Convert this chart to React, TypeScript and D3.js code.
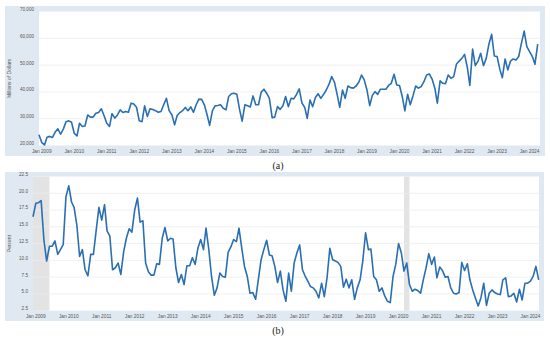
import * as d3 from 'd3';

// monthly observations, Dec 2008 .. Apr 2024
const firstMonth = new Date(Date.UTC(2008, 11, 1));
const lastMonth = new Date(Date.UTC(2024, 3, 1));

// (a) millions of dollars
const salesValues = [
  24000, 21100, 20200, 23100, 23400, 23000, 25000, 26200, 24200, 26200, 28900, 29200, 28700,
  24500, 23600, 28300, 27100, 27300, 31400, 30600, 30600, 32000, 32300, 33700, 31200,
  28300, 27100, 31900, 30200, 31400, 33300, 32300, 32700, 32400, 35800, 35500, 34300,
  29200, 28900, 34800, 30800, 33700, 33400, 33000, 32400, 32700, 35200, 37600, 33000,
  31500, 27700, 31200, 32300, 33000, 34200, 33000, 34400, 32400, 35200, 37300, 37200,
  35200, 31400, 27500, 32900, 34800, 34900, 35200, 33900, 33300, 38300, 39300, 39500,
  39100, 33300, 29100, 35200, 34800, 34400, 38500, 35200, 35200, 39900, 41000, 39500,
  37600, 30400, 30600, 34500, 33500, 34800, 38300, 34500, 37600, 37400, 39100, 41100,
  35800, 34200, 30100, 37000, 34500, 37900, 39300, 37600, 39100, 40700, 42900, 45700,
  43600, 38900, 34200, 40700, 37600, 42200, 41600, 41400, 42200, 43600, 46300, 44500,
  40700, 34900, 38600, 40100, 39100, 41000, 41000, 41000, 42400, 43200, 46600, 42600,
  42400, 38300, 32900, 39100, 35200, 38600, 42200, 41400, 42000, 43800, 46300, 46700,
  44800, 41400, 35800, 44100, 43200, 43100, 46300, 45100, 45700, 50300, 51500, 52500,
  54000, 49100, 42400, 56000, 49800, 51500, 54400, 49800, 52500, 57800, 61500, 53400,
  53200, 48400, 45300, 52300, 48200, 51500, 52300, 51900, 53200, 58100, 62700, 56900,
  55000, 53200, 50300, 57800,
];

// (b) percent
const rateValues = [
  16.5, 18.5, 18.6, 18.9, 13.0, 9.9, 12.1, 12.1, 12.9, 10.9, 11.6, 12.4, 19.5,
  21.1, 18.7, 17.9, 15.2, 10.6, 11.6, 8.6, 7.7, 10.9, 10.9, 14.5, 17.9,
  16.0, 18.3, 14.4, 13.6, 8.6, 8.9, 9.6, 7.9, 11.3, 13.3, 14.7, 14.2,
  17.5, 19.3, 15.7, 15.9, 9.6, 8.3, 7.8, 7.8, 9.5, 9.4, 13.3, 14.9,
  12.9, 13.3, 13.2, 8.9, 6.7, 7.9, 6.4, 9.2, 9.2, 10.4, 9.4, 11.8,
  13.1, 11.6, 14.8, 11.6, 7.6, 4.8, 5.9, 8.1, 7.6, 7.5, 11.2, 12.0,
  13.1, 12.8, 14.8, 11.8, 9.1, 7.6, 5.1, 5.2, 4.2, 7.1, 10.1, 11.6,
  13.0, 10.8, 10.7, 9.1, 6.7, 8.4, 5.6, 3.9, 8.1, 5.4, 9.6, 11.1,
  12.3, 8.6, 7.7, 6.9, 6.1, 5.9, 5.4, 4.4, 6.6, 4.6, 7.5, 11.8,
  10.1, 9.9, 9.7, 9.1, 6.0, 7.2, 5.9, 7.1, 4.2, 5.9, 7.1, 9.9,
  14.1, 11.6, 11.7, 7.6, 7.1, 5.4, 5.9, 4.7, 3.9, 3.7, 7.6, 9.4,
  12.5, 11.1, 8.4, 9.6, 6.4, 5.4, 5.7, 5.5, 5.1, 7.1, 8.9, 11.0,
  9.4, 10.5, 7.4, 9.0, 8.5, 7.5, 7.6, 5.9, 5.1, 5.0, 5.2, 9.7,
  8.5, 9.5, 7.1, 5.6, 4.4, 3.2, 4.4, 6.6, 3.3, 5.1, 5.6, 5.2,
  5.0, 4.9, 7.1, 7.4, 4.6, 4.7, 5.1, 3.8, 5.7, 4.1, 6.6, 6.6,
  6.9, 7.7, 9.1, 7.1,
];

const tickYears = d3.range(2009, 2025);
const salesTicks = [20000, 30000, 40000, 50000, 60000, 70000];
const rateTicks = [2.5, 5, 7.5, 10, 12.5, 15, 17.5, 20, 22.5];
const recessions: [string, string][] = [
  ['2008-12-01', '2009-06-01'],
  ['2020-03-01', '2020-05-01'],
];

const LINE = '#2a6fb2';
const FRAME = '#e0e9f1';
const FONT = 'Liberation Sans, Arial, sans-serif';

interface PanelProps {
  values: number[];
  ticks: number[];
  fmt: (v: number) => string;
  title: string;
  frame: { x: number; y: number; w: number; h: number };
  plot: { left: number; right: number; top: number; bottom: number; lineEnd: number };
  shades?: [string, string][];
}

function Panel({ values, ticks, fmt, title, frame, plot, shades }: PanelProps) {
  const dates = values.map((_, i) => d3.utcMonth.offset(firstMonth, i));
  const x = d3.scaleUtc().domain([firstMonth, lastMonth]).range([plot.left, plot.lineEnd]);
  const y = d3
    .scaleLinear()
    .domain([ticks[0], ticks[ticks.length - 1]])
    .range([plot.bottom, plot.top]);

  const line = d3
    .line<number>()
    .x((_, i) => x(dates[i]))
    .y((d) => y(d));

  return (
    <g>
      <rect x={frame.x} y={frame.y} width={frame.w} height={frame.h} fill={FRAME} />
      <rect
        x={plot.left}
        y={plot.top}
        width={plot.right - plot.left}
        height={plot.bottom - plot.top}
        fill="#fff"
      />
      {(shades || []).map(([a, b]) => {
        const x0 = Math.max(plot.left, x(new Date(a)));
        const x1 = x(new Date(b));
        return (
          <rect key={a} x={x0} y={plot.top} width={x1 - x0} height={plot.bottom - plot.top} fill="#e3e3e3" />
        );
      })}
      {ticks.slice(1, -1).map((t) => (
        <line key={t} x1={plot.left} x2={plot.right} y1={y(t)} y2={y(t)} stroke="#ececec" strokeWidth={0.8} />
      ))}
      {ticks.map((t) => (
        <text
          key={'l' + t}
          x={plot.left - 5}
          y={y(t) - 0.6}
          textAnchor="end"
          fontSize={4.6}
          fill="#555"
          fontFamily={FONT}
        >
          {fmt(t)}
        </text>
      ))}
      {tickYears.map((yr) => (
        <text
          key={yr}
          x={x(new Date(Date.UTC(yr, 0, 1)))}
          y={frame.y + frame.h - 2.6}
          textAnchor="middle"
          fontSize={4.8}
          fill="#555"
          fontFamily={FONT}
        >
          {`Jan ${yr}`}
        </text>
      ))}
      <text
        transform={`translate(${frame.x + 5.5},${(plot.top + plot.bottom) / 2}) rotate(-90)`}
        textAnchor="middle"
        fontSize={5}
        fill="#555"
        fontFamily={FONT}
      >
        {title}
      </text>
      <path d={line(values) || ''} fill="none" stroke={LINE} strokeWidth={1.6} strokeLinejoin="round" />
    </g>
  );
}

export default function App() {
  return (
    <svg
      width={550}
      height={341}
      style={{ position: 'absolute', left: 0, top: 0, background: '#fff' }}
    >
      <Panel
        values={salesValues}
        ticks={salesTicks}
        fmt={d3.format(',')}
        title="Millions of Dollars"
        frame={{ x: 5, y: 6, w: 540, h: 150 }}
        plot={{ left: 39, right: 540, top: 11.5, bottom: 145.5, lineEnd: 537.7 }}
      />
      <Panel
        values={rateValues}
        ticks={rateTicks}
        fmt={d3.format('.1f')}
        title="Percent"
        frame={{ x: 5, y: 172, w: 539, h: 149 }}
        plot={{ left: 33, right: 539, top: 176.5, bottom: 310.7, lineEnd: 538.7 }}
        shades={recessions}
      />
      <text x={278} y={168.5} textAnchor="middle" fontSize={10} fill="#222" fontFamily="Liberation Serif, serif">
        (a)
      </text>
      <text x={278} y={333.5} textAnchor="middle" fontSize={10} fill="#222" fontFamily="Liberation Serif, serif">
        (b)
      </text>
    </svg>
  );
}
